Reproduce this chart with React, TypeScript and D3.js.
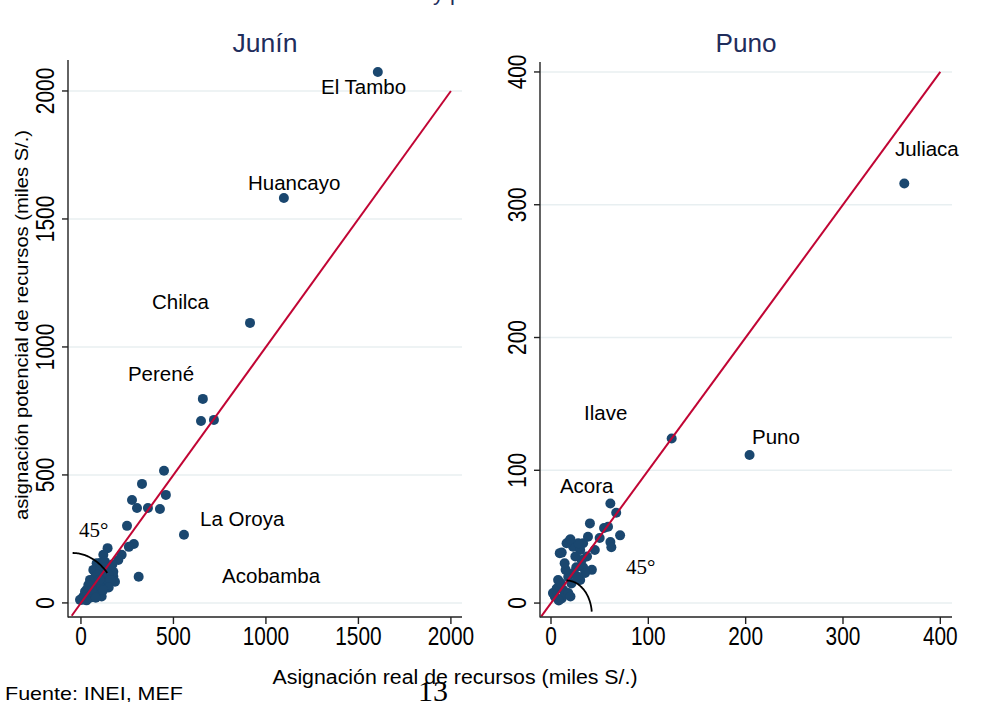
import React from "react";
import * as d3 from "d3";

// ---------- data ----------
const JUNIN_X = [1605, 1097, 914, 659, 649, 719, 449, 459, 330, 276, 303, 362, 427, 557, 249, 286, 259, 312,
  144, 121, 220, 202, 85, 157, 175, 67, 103, 49, 31, 13, 67, 112, 121, 94, 4, 139, 175, 103, 130, 58, 85, 22, -5, 148, 184,
  40, 75, 110, 160, 20, 50, 90, 130, 60, 100, 150, 170, 30, 80, 120];
const JUNIN_Y = [2074, 1582, 1094, 797, 711, 715, 516, 422, 465, 402, 371, 371, 367, 266, 301, 230, 219, 102,
  214, 188, 188, 168, 155, 129, 103, 129, 129, 90, 51, 25, 64, 25, 103, 77, 12, 77, 122, 156, 161, 38, 38, 44, 12, 109, 83,
  70, 100, 60, 90, 20, 20, 110, 140, 50, 90, 60, 150, 10, 20, 50];

const PUNO_X = [363, 124, 204, 61, 67, 40, 71, 54.5, 58.6, 50, 61, 62, 19.5, 22.7, 33, 9, 30, 37, 31.5, 42, 26, 23, 17.7,
  7.3, 5.8, 12.6, 4, 11, 17.7, 2, 33, 21, 30, 35, 25, 15, 28, 45, 10, 20, 8, 14, 38, 27, 16, 20, 11];
const PUNO_Y = [316, 124, 111.5, 75, 68, 60, 51, 56.5, 57.5, 49, 46, 42, 47.5, 42.4, 45, 37.6, 40, 35, 32.4, 25, 27, 22.6, 19.8,
  17.3, 11, 9.8, 4.8, 3.5, 7.5, 7.5, 27, 14.8, 17.3, 22.6, 35, 25, 45, 40, 15, 5, 2, 30, 50, 20, 45, 48, 38];

const JUNIN_TICKS = [0, 500, 1000, 1500, 2000];
const PUNO_TICKS = [0, 100, 200, 300, 400];

const JUNIN_LABELS = ["El Tambo", "Huancayo", "Chilca", "Perené", "La Oroya", "Acobamba"];
const JUNIN_LABEL_X = [1298, 903, 384, 254, 644, 763];
const JUNIN_LABEL_Y = [1988, 1613, 1148, 867, 300, 78];

const PUNO_LABELS = ["Juliaca", "Ilave", "Puno", "Acora"];
const PUNO_LABEL_X = [353.4, 33.9, 206.5, 9.2];
const PUNO_LABEL_Y = [336.7, 137.9, 119.8, 82.9];

const PANEL_TITLES = ["Junín", "Puno"];
const PANEL_TITLE_W = [65, 61];
const X_TITLE = "Asignación real de recursos (miles S/.)";
const Y_TITLE = "asignación potencial de recursos (miles S/.)";
const NOTE = "Fuente: INEI, MEF";
const ANGLE_TEXT = "45°";

// ---------- styles ----------
const NAVY = "#1a476f";
const RED = "#c10534";
const GRID = "#e8eff1";
const TITLE_C = "#1f2d5c";
const SANS = "'Liberation Sans', Arial, Helvetica, sans-serif";
const SERIF = "'Liberation Serif', 'Times New Roman', serif";

type PanelProps = {
  title: string;
  titleW: number;
  xs: number[];
  ys: number[];
  ticks: number[];
  xDomain: [number, number];
  yDomain: [number, number];
  xRange: [number, number];
  yRange: [number, number];
  labels: string[];
  lx: number[];
  ly: number[];
  lineExt: [number, number];
  arc: { cx: number; cy: number; r: number; a0: number; a1: number };
  angleAt: [number, number];
  tickLabelX: number;
};

function Panel(p: PanelProps) {
  const x = d3.scaleLinear().domain(p.xDomain).range(p.xRange);
  const y = d3.scaleLinear().domain(p.yDomain).range(p.yRange);
  const [x0, x1] = p.xRange;
  const [yb, yt] = p.yRange;
  const tickW = 11.6;

  const arcPts = d3.range(0, 41).map((i) => {
    const t = p.arc.a0 + ((p.arc.a1 - p.arc.a0) * i) / 40;
    return [p.arc.cx + p.arc.r * Math.cos(t), p.arc.cy + p.arc.r * Math.sin(t)] as [number, number];
  });
  const arcPath = d3.line<[number, number]>().x((d) => x(d[0])).y((d) => y(d[1]))(arcPts) || "";

  return (
    <g>
      <text x={(x0 + x1) / 2} y={52} textAnchor="middle" fontFamily={SANS} fontSize={25} fill={TITLE_C}
        textLength={p.titleW} lengthAdjust="spacingAndGlyphs">
        {p.title}
      </text>
      {p.ticks.map((t) => (
        <line key={"g" + t} x1={x0} x2={x1} y1={y(t)} y2={y(t)} stroke={GRID} strokeWidth={1.5} />
      ))}
      {p.xs.map((v, i) => (
        <circle key={"p" + i} cx={x(v)} cy={y(p.ys[i])} r={5} fill={NAVY} />
      ))}
      <line x1={x(p.lineExt[0])} y1={y(p.lineExt[0])} x2={x(p.lineExt[1])} y2={y(p.lineExt[1])} stroke={RED} strokeWidth={2} />
      <path d={arcPath} fill="none" stroke="#000" strokeWidth={1.8} />
      <text x={x(p.angleAt[0])} y={y(p.angleAt[1])} fontFamily={SERIF} fontSize={21} fill="#000">{ANGLE_TEXT}</text>
      {p.labels.map((l, i) => (
        <text key={"l" + i} x={x(p.lx[i])} y={y(p.ly[i])} fontFamily={SANS} fontSize={20.5} fill="#000">{l}</text>
      ))}
      {/* axes */}
      <line x1={x0} x2={x0} y1={yb + 0.5} y2={yt} stroke="#222" strokeWidth={1.4} />
      <line x1={x0} x2={x1} y1={yb} y2={yb} stroke="#222" strokeWidth={1.4} />
      {p.ticks.map((t) => (
        <g key={"yt" + t}>
          <line x1={x0 - 6} x2={x0} y1={y(t)} y2={y(t)} stroke="#222" strokeWidth={1.4} />
          <text transform={`translate(${p.tickLabelX},${y(t)}) rotate(-90)`} textAnchor="middle" fontFamily={SANS}
            fontSize={25} fill="#000" textLength={String(t).length * tickW} lengthAdjust="spacingAndGlyphs">{t}</text>
        </g>
      ))}
      {p.ticks.map((t) => (
        <g key={"xt" + t}>
          <line x1={x(t)} x2={x(t)} y1={yb} y2={yb + 7} stroke="#222" strokeWidth={1.4} />
          <text x={x(t)} y={645} textAnchor="middle" fontFamily={SANS} fontSize={25} fill="#000"
            textLength={String(t).length * tickW} lengthAdjust="spacingAndGlyphs">{t}</text>
        </g>
      ))}
    </g>
  );
}

export default function App() {
  return (
    <svg width={985} height={702} style={{ position: "absolute", left: 0, top: 0, background: "#fff" }}>
      <rect x={0} y={0} width={985} height={702} fill="#fff" />
      <text x={433} y={0} fontFamily={SANS} fontSize={22} fill={TITLE_C}>y p</text>
      <Panel
        title={PANEL_TITLES[0]}
        titleW={PANEL_TITLE_W[0]}
        xs={JUNIN_X}
        ys={JUNIN_Y}
        ticks={JUNIN_TICKS}
        xDomain={[-70, 2060]}
        yDomain={[-55, 2121]}
        xRange={[68, 462]}
        yRange={[617, 60]}
        labels={JUNIN_LABELS}
        lx={JUNIN_LABEL_X}
        ly={JUNIN_LABEL_Y}
        lineExt={[-50, 2000]}
        arc={{ cx: -45, cy: -70, r: 265, a0: Math.PI / 2, a1: Math.PI / 4 }}
        angleAt={[-10.5, 258]}
        tickLabelX={54}
      />
      <Panel
        title={PANEL_TITLES[1]}
        titleW={PANEL_TITLE_W[1]}
        xs={PUNO_X}
        ys={PUNO_Y}
        ticks={PUNO_TICKS}
        xDomain={[-11.3, 412]}
        yDomain={[-10.5, 407.5]}
        xRange={[540, 952]}
        yRange={[617, 62]}
        labels={PUNO_LABELS}
        lx={PUNO_LABEL_X}
        ly={PUNO_LABEL_Y}
        lineExt={[-10, 400]}
        arc={{ cx: 16, cy: -9, r: 26, a0: Math.PI / 2, a1: 0.1 }}
        angleAt={[77, 21.9]}
        tickLabelX={526}
      />
      <text transform="translate(28,325) rotate(-90)" textAnchor="middle" fontFamily={SANS} fontSize={18} fill="#000"
        textLength={390} lengthAdjust="spacingAndGlyphs">{Y_TITLE}</text>
      <text x={455} y={684} textAnchor="middle" fontFamily={SANS} fontSize={20} fill="#000"
        textLength={365} lengthAdjust="spacingAndGlyphs">{X_TITLE}</text>
      <text x={5} y={700} fontFamily={SANS} fontSize={19} fill="#000"
        textLength={178} lengthAdjust="spacingAndGlyphs">{NOTE}</text>
      <text x={433} y={701} textAnchor="middle" fontFamily={SERIF} fontSize={30} fill="#000">13</text>
    </svg>
  );
}
